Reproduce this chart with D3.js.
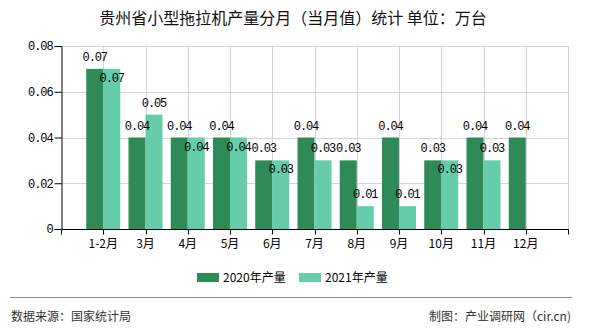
<!DOCTYPE html>
<html>
<head>
<meta charset="utf-8">
<script src="https://cdn.jsdelivr.net/npm/d3@7"></script>
<style>
  html, body { margin: 0; padding: 0; background: #fff; }
  svg { display: block; }
  text { font-family: "Noto Sans CJK SC", "Noto Sans", sans-serif; }
  .num { font-family: "Liberation Mono", "DejaVu Sans Mono", monospace; font-size: 12px; letter-spacing: -1.1px; }
</style>
</head>
<body>
<svg id="chart" width="590" height="330"></svg>
<script>
// Monthly small-tractor output, Guizhou (10k units)
const categories = ["1-2月", "3月", "4月", "5月", "6月", "7月", "8月", "9月", "10月", "11月", "12月"];
const values2020 = [0.07, 0.04, 0.04, 0.04, 0.03, 0.04, 0.03, 0.04, 0.03, 0.04, 0.04];
const values2021 = [0.07, 0.05, 0.04, 0.04, 0.03, 0.03, 0.01, 0.01, 0.03, 0.03, null];
const seriesNames = ["2020年产量", "2021年产量"];
const yTicks = [0, 0.02, 0.04, 0.06, 0.08];

const colors = ["#2e8b57", "#66cdaa"];
const svg = d3.select("#chart");

const plotLeft = 61, plotRight = 568, plotTop = 46, plotBottom = 229;
const slot = (plotRight - plotLeft) / 12;   // eleven months plus one empty trailing slot
const barW = 17;

const x = d3.scalePoint().domain(categories).range([plotLeft + slot, plotRight - slot]);
const y = d3.scaleLinear().domain([0, 0.08]).range([plotBottom, plotTop]);

// title
svg.append("text")
  .attr("x", 293).attr("y", 24)
  .attr("text-anchor", "middle")
  .attr("font-size", 16)
  .attr("fill", "#111")
  .text("贵州省小型拖拉机产量分月（当月值）统计 单位：万台");

// grid
const grid = svg.append("g").attr("stroke", "#d4d4d4").attr("stroke-width", 1);
grid.selectAll(".h").data(yTicks.filter(d => d > 0)).join("line")
  .attr("x1", plotLeft).attr("x2", plotRight)
  .attr("y1", d => Math.round(y(d)) + 0.5).attr("y2", d => Math.round(y(d)) + 0.5);
grid.selectAll(".v").data(categories).join("line")
  .attr("x1", d => Math.round(x(d)) + 0.5).attr("x2", d => Math.round(x(d)) + 0.5)
  .attr("y1", plotTop).attr("y2", plotBottom);
grid.append("line")
  .attr("x1", plotRight + 0.5).attr("x2", plotRight + 0.5)
  .attr("y1", plotTop).attr("y2", plotBottom);

// bars
const bars = svg.append("g");
const series = [values2020, values2021];
series.forEach((vals, s) => {
  bars.selectAll(".b" + s)
    .data(categories.map((c, i) => ({ c, v: vals[i] })).filter(d => d.v != null))
    .join("rect")
    .attr("x", d => x(d.c) - barW + s * barW)
    .attr("y", d => y(d.v))
    .attr("width", barW)
    .attr("height", d => y(0) - y(d.v))
    .attr("fill", colors[s]);
});

// value labels: 2021 drops inside its bar when it would collide with the 2020 label
const labels = svg.append("g").attr("fill", "#000");
categories.forEach((c, i) => {
  const a = values2020[i], b = values2021[i];
  if (a != null) {
    labels.append("text").attr("class", "num")
      .attr("x", x(c) - barW / 2).attr("y", y(a) - 8)
      .attr("text-anchor", "middle").text(a.toFixed(2));
  }
  if (b != null) {
    const inside = a != null && a === b;
    labels.append("text").attr("class", "num")
      .attr("x", x(c) + barW / 2).attr("y", inside ? y(b) + 13 : y(b) - 8)
      .attr("text-anchor", "middle").text(b.toFixed(2));
  }
});

// y axis
const yAxis = svg.append("g")
  .attr("transform", `translate(${plotLeft + 0.5},0)`)
  .call(d3.axisLeft(y).tickValues(yTicks).tickSize(7).tickPadding(2)
    .tickFormat(d => d === 0 ? "0" : d3.format(".2f")(d)));
yAxis.selectAll("path, line").attr("stroke", "#000");
yAxis.selectAll("text").attr("class", "num").attr("font-size", null).attr("fill", "#000");

// x axis
const xAxis = svg.append("g").attr("transform", `translate(0,${plotBottom + 0.5})`);
xAxis.append("line").attr("x1", plotLeft).attr("x2", plotRight + 1).attr("stroke", "#000");
xAxis.selectAll(".tk").data(categories).join("line")
  .attr("x1", d => Math.round(x(d)) + 0.5).attr("x2", d => Math.round(x(d)) + 0.5)
  .attr("y1", 0).attr("y2", 5).attr("stroke", "#000");
xAxis.append("line").attr("x1", plotRight + 0.5).attr("x2", plotRight + 0.5).attr("y1", 0).attr("y2", 5).attr("stroke", "#000");
xAxis.append("line").attr("x1", plotLeft + 0.5).attr("x2", plotLeft + 0.5).attr("y1", 0).attr("y2", 5).attr("stroke", "#000");
xAxis.selectAll(".lb").data(categories).join("text")
  .attr("x", d => x(d)).attr("y", 18)
  .attr("text-anchor", "middle").attr("font-size", 12).attr("fill", "#000")
  .text(d => d);

// legend
const legendX = [197, 299];
seriesNames.forEach((name, s) => {
  svg.append("rect").attr("x", legendX[s]).attr("y", 273).attr("width", 22).attr("height", 9).attr("fill", colors[s]);
  svg.append("text").attr("x", legendX[s] + 26).attr("y", 281.5)
    .attr("font-size", 12).attr("fill", "#000").text(name);
});

// footer
svg.append("line").attr("x1", 10).attr("x2", 572).attr("y1", 297.5).attr("y2", 297.5)
  .attr("stroke", "#888").attr("stroke-width", 1);
svg.append("text").attr("x", 11).attr("y", 321).attr("font-size", 12).attr("fill", "#333")
  .text("数据来源：国家统计局");
svg.append("text").attr("x", 571).attr("y", 321).attr("text-anchor", "end").attr("font-size", 12).attr("fill", "#333")
  .text("制图：产业调研网（cir.cn)");
</script>
</body>
</html>
